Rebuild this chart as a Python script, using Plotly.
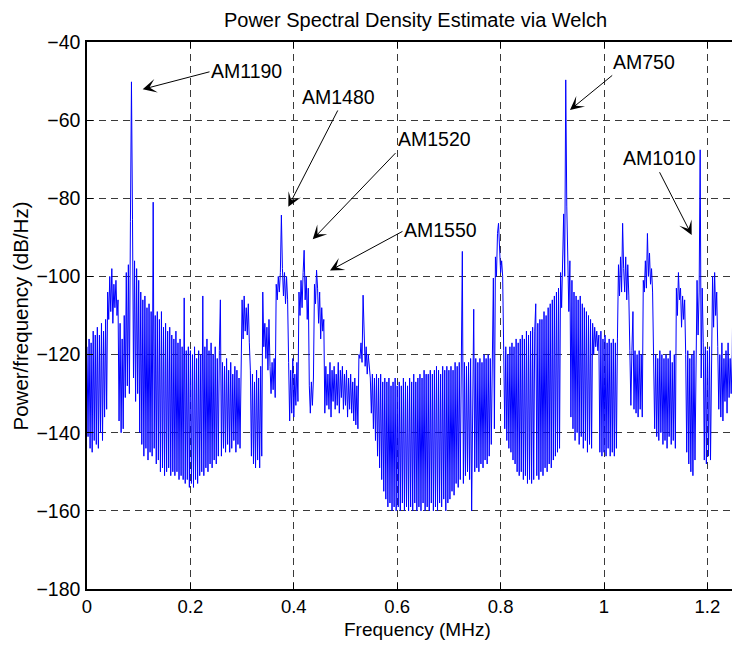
import numpy as np
import plotly.graph_objects as go

# ---- data, one value per 0.002 MHz bin ----
F_START_MHZ = 0.0
F_STEP_MHZ = 0.002

psd_0_to_0p2 = [
    -118, -141, -116, -144, -117, -145, -114, -142, -115, -143,
    -113, -144, -115, -140, -112, -142, -114, -136, -111, -134,
    -104, -111, -100, -109, -98, -112, -102, -108, -101, -110,
    -106, -137, -112, -140, -116, -139, -110, -131, -99, -128,
    -97, -130, -86, -50.2, -85.5, -126, -96, -132, -98, -130,
    -101, -140, -104, -143, -106, -146, -105, -144, -108, -147,
    -107, -145, -109, -146, -81, -144, -110, -148, -109, -147,
    -111, -150, -109, -149, -113, -151, -112, -150, -114, -149,
    -113, -151, -115, -150, -116, -151, -114, -150, -117, -152,
    -116, -151, -118, -152, -105.5, -153, -119, -152, -118, -154,
]
psd_0p2_to_0p4 = [
    -119, -153, -120, -154, -118, -152, -121, -153, -119, -151,
    -120, -150, -105, -151, -118, -149, -116, -150, -119, -148,
    -117, -149, -120, -147, -118, -148, -121, -146, -119, -106,
    -146, -122, -144, -123, -145, -121, -143, -124, -145, -122,
    -144, -125, -142, -123, -145, -124, -143, -126, -144, -122,
    -106, -116, -105, -114, -108, -115, -107, -117, -124, -146,
    -125, -148, -127, -149, -124, -147, -126, -149, -123, -146,
    -104, -118, -112, -121, -113, -124, -111, -123, -130, -122,
    -129, -121, -131, -102, -106, -100, -104, -99, -84.3, -98,
    -105, -99, -107, -100, -106, -122, -137, -124, -135, -121,
]
psd_0p4_to_0p6 = [
    -136, -125, -133, -122, -132, -104, -110, -101, -108, -99,
    -93.3, -106, -100, -111, -103, -128, -135, -127, -133, -126,
    -102, -107, -98.4, -103, -112, -104, -116, -108, -114, -111,
    -135, -123, -133, -125, -134, -122, -136, -124, -132, -123,
    -134, -125, -133, -122, -135, -124, -131, -123, -134, -125,
    -133, -124, -136, -126, -134, -125, -135, -127, -137, -126,
    -138, -128, -139, -120, -121, -117, -122, -104.8, -119, -123,
    -118, -125, -120, -124, -126, -135, -125, -139, -126, -142,
    -125, -146, -126, -149, -125, -152, -127, -155, -126, -157,
    -127, -159, -126, -158, -128, -160, -127, -159, -126, -160,
]
psd_0p6_to_0p8 = [
    -128, -159, -127, -160, -128, -158, -126, -160, -127, -159,
    -128, -160, -126, -159, -127, -160, -125, -158, -127, -160,
    -126, -159, -125, -160, -126, -158, -124, -160, -125, -159,
    -125, -160, -124, -158, -125, -160, -124, -159, -123, -160,
    -124, -158, -125, -159, -123, -157, -124, -160, -123, -158,
    -124, -157, -123, -155, -124, -156, -122, -153, -123, -154,
    -122, -152, -123, -93.6, -153, -122, -151, -123, -150, -122,
    -152, -121, -160, -122, -108.4, -150, -121, -149, -122, -150,
    -121, -148, -122, -149, -120, -147, -121, -148, -120, -146,
    -121, -143, -120, -100.4, -139, -95, -100, -89, -86.4, -92,
]
psd_0p8_to_1p0 = [
    -99, -96, -100, -119, -139, -118, -142, -120, -144, -118,
    -145, -117, -147, -118, -148, -116, -150, -117, -151, -116,
    -150, -115, -152, -116, -151, -114, -153, -115, -152, -114,
    -153, -113, -152, -114, -107, -151, -112, -152, -111, -150,
    -111, -151, -109, -149, -110, -150, -108, -148, -107, -149,
    -106, -147, -105, -146, -104, -145, -103, -144, -99, -108,
    -96, -84, -100, -49.7, -82, -97, -109, -96, -136, -101,
    -139, -104, -142, -105, -140, -106, -143, -105, -141, -107,
    -144, -108, -142, -109, -145, -110, -143, -111, -144, -112,
    -120, -113, -118, -114, -119, -115, -145, -114, -146, -116,
]
psd_1p0_to_1p26 = [
    -145, -115, -146, -117, -144, -116, -146, -117, -145, -116,
    -146, -117, -144, -116, -97, -105, -95, -104, -86.4, -98,
    -104, -95, -106, -97, -105, -119, -133, -119, -109, -134,
    -119, -135, -120, -136, -119, -134, -120, -136, -101, -104,
    -96, -103, -89, -100, -94, -102, -98, -104, -121, -139,
    -120, -141, -121, -142, -119, -140, -120, -143, -121, -142,
    -120, -144, -121, -141, -119, -143, -122, -142, -120, -144,
    -103, -110, -99, -106, -103, -113, -105, -111, -106, -120,
    -145, -119, -148, -121, -150, -120, -151, -119, -147, -121,
    -101, -115, -104, -67.6, -126, -103, -117, -147, -118, -148,
    -119, -146, -118, -147, -117, -100, -113, -99, -110, -104,
    -118, -134, -120, -136, -117, -137, -121, -132, -119, -135,
    -117, -131, -121, -130, -120, -94, -126, -82.6, -110, -96,
    -127,
]

psd_db_per_hz = (psd_0_to_0p2 + psd_0p2_to_0p4 + psd_0p4_to_0p6
                 + psd_0p6_to_0p8 + psd_0p8_to_1p0 + psd_1p0_to_1p26)
freq_mhz = F_START_MHZ + F_STEP_MHZ * np.arange(len(psd_db_per_hz))

# annotation labels and arrows (data coordinates)
station_labels = ["AM1190", "AM1480", "AM1520", "AM1550", "AM750", "AM1010"]
label_x = [0.3085, 0.4855, 0.6712, 0.6828, 1.0764, 1.1064]
label_y = [-47.4, -54.1, -64.95, -88.0, -45.1, -69.7]
arrow_tail_x = [0.2379, 0.4855, 0.5977, 0.6112, 1.0168, 1.1070]
arrow_tail_y = [-47.6, -57.4, -68.3, -88.4, -48.45, -73.2]
arrow_head_x = [0.1077, 0.3894, 0.4366, 0.4700, 0.9342, 1.1696]
arrow_head_y = [-52.1, -82.15, -90.5, -98.5, -57.4, -89.4]

x_tick_vals = [0, 0.2, 0.4, 0.6, 0.8, 1.0, 1.2]
x_tick_text = ["0", "0.2", "0.4", "0.6", "0.8", "1", "1.2"]
y_tick_vals = [-180, -160, -140, -120, -100, -80, -60, -40]

FONT = "Liberation Sans, Arial, Helvetica, sans-serif"
FS = 19.5

# the page body adds an 8px offset; the figure is sized to fill the rest
W, H = 732, 637
ML, MT, MB = 79, 34, 56
PW, PH = W - ML, H - MT - MB

fig = go.Figure()
fig.add_trace(go.Scatter(
    x=freq_mhz, y=psd_db_per_hz, mode="lines",
    line=dict(color="#0000ff", width=1), hoverinfo="skip", showlegend=False,
))

annotations = []
for i in range(len(station_labels)):
    annotations.append(dict(
        x=arrow_head_x[i], y=arrow_head_y[i], xref="x", yref="y",
        ax=arrow_tail_x[i], ay=arrow_tail_y[i], axref="x", ayref="y",
        text="", showarrow=True, arrowhead=3, arrowsize=2.3, arrowwidth=1,
        arrowcolor="black", standoff=0, startstandoff=0, borderpad=0,
    ))
    annotations.append(dict(
        x=label_x[i], y=label_y[i], xref="x", yref="y",
        text=station_labels[i], showarrow=False,
        xanchor="center", yanchor="middle",
        font=dict(family=FONT, size=FS, color="black"),
    ))

# axis titles as annotations (precise placement, in figure pixels)
annotations.append(dict(
    x=(409 - ML) / PW, y=-(621 - (MT + PH)) / PH, xref="paper", yref="paper",
    text="Frequency (MHz)", showarrow=False, xanchor="center", yanchor="middle",
    font=dict(family=FONT, size=19, color="black"),
))
annotations.append(dict(
    x=-(ML - 11.5) / PW, y=(MT + PH - 308) / PH, xref="paper", yref="paper",
    text="Power/frequency (dB/Hz)", showarrow=False, textangle=-90,
    xanchor="center", yanchor="middle",
    font=dict(family=FONT, size=20.5, color="black"),
))

axis_common = dict(
    showline=True, linecolor="black", linewidth=1.5, mirror="ticks",
    ticks="inside", ticklen=6, tickcolor="black", tickwidth=1,
    showgrid=True, gridcolor="#3a3a3a", gridwidth=1, griddash="7px,5px",
    zeroline=False, automargin=False,
)

fig.update_layout(
    width=W, height=H,
    margin=dict(l=ML, r=0, t=MT, b=MB),
    paper_bgcolor="white", plot_bgcolor="white",
    title=dict(text="Power Spectral Density Estimate via Welch",
               x=(407.5 - ML) / PW, xref="paper", xanchor="center",
               y=1 - 12 / H, yref="container", yanchor="middle",
               font=dict(family=FONT, size=20, color="black")),
    xaxis=dict(range=[0, PW / 517], tickvals=x_tick_vals, ticktext=x_tick_text,
               ticklabelstandoff=0,
               tickfont=dict(family=FONT, size=18.5, color="black"),
               **axis_common),
    yaxis=dict(range=[-180, -40], tickvals=y_tick_vals,
               ticklabelstandoff=1,
               tickfont=dict(family=FONT, size=FS, color="black"),
               **axis_common),
    annotations=annotations,
    showlegend=False,
)

fig.write_html("out.html")
